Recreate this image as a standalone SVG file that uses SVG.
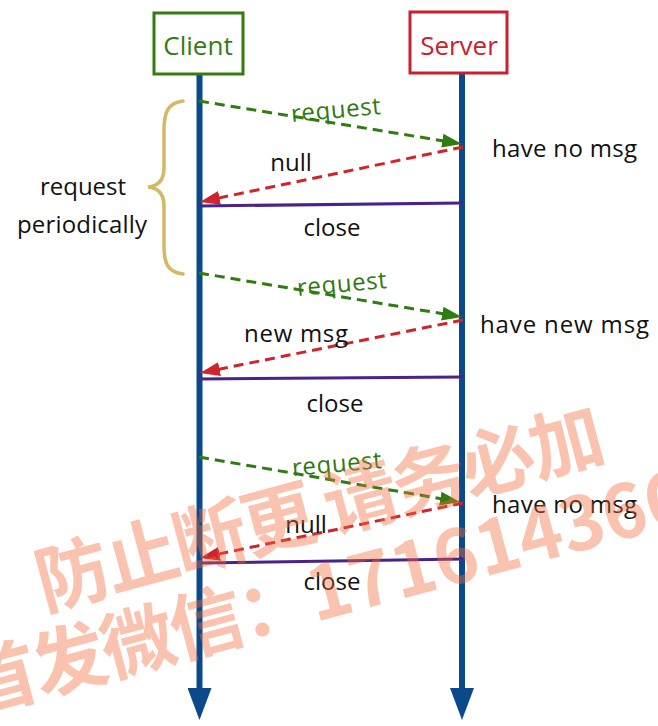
<svg xmlns="http://www.w3.org/2000/svg" width="658" height="726" viewBox="0 0 658 726">
<style>
.t{font-family:"Open Sans","DejaVu Sans",sans-serif;font-size:24px;fill:#111}
.req{fill:#2f7a10}
.box{fill:#fff;stroke-width:3}
.life{stroke:#0b4a8a;stroke-width:6;fill:none}
.dreq{stroke:#2f7d10;stroke-width:3;stroke-dasharray:10 6;fill:none}
.dres{stroke:#d0232b;stroke-width:3;stroke-dasharray:10 6;fill:none}
.cls{stroke:#4a2388;stroke-width:3;fill:none}
.wm{font-family:"Noto Sans CJK SC",sans-serif;font-weight:700;font-size:74px;letter-spacing:-3px;fill:#f26b3a;opacity:0.4}
</style>
<defs>
<marker id="ag" markerUnits="userSpaceOnUse" markerWidth="20" markerHeight="14" viewBox="0 0 20 14" refX="8" refY="7" orient="auto"><path d="M0,0 L20,7 L0,14 z" fill="#2f7d10"/></marker>
<marker id="ar" markerUnits="userSpaceOnUse" markerWidth="20" markerHeight="14" viewBox="0 0 20 14" refX="8" refY="7" orient="auto"><path d="M0,0 L20,7 L0,14 z" fill="#d0232b"/></marker>
<marker id="ab" markerUnits="userSpaceOnUse" markerWidth="32" markerHeight="24" viewBox="0 0 32 24" refX="12" refY="12" orient="auto"><path d="M0,0 L32,12 L0,24 z" fill="#0b4a8a"/></marker>
</defs>
<rect width="658" height="726" fill="#fff"/>

<g id="client">
<line class="life" x1="199.5" y1="74" x2="199.5" y2="700" marker-end="url(#ab)"/>
<rect class="box" x="154" y="13" width="89" height="61" stroke="#347c10"/>
<text class="t" x="198" y="55" text-anchor="middle" style="font-size:26px;fill:#347c10">Client</text>
</g>

<g id="server">
<line class="life" x1="462" y1="74" x2="462" y2="700" marker-end="url(#ab)"/>
<rect class="box" x="410" y="12" width="97" height="61" stroke="#c8202c"/>
<text class="t" x="459" y="55" text-anchor="middle" style="font-size:26px;fill:#c8202c">Server</text>
</g>

<g id="brace">
<path d="M183,101 C168,103 164,112 164,130 L164,168 C164,180 158,186 148,187 C158,188 164,194 164,206 L164,246 C164,264 168,272 183,274" fill="none" stroke="#d6b766" stroke-width="3.5" stroke-linecap="round"/>
<text class="t" x="83" y="195" text-anchor="middle">request</text>
<text class="t" x="82" y="233" text-anchor="middle" textLength="130" lengthAdjust="spacing">periodically</text>
</g>

<g id="connectors">
<line class="dreq" x1="199" y1="101" x2="450.2" y2="142" marker-end="url(#ag)"/>
<line class="dres" x1="463" y1="147" x2="211.7" y2="199.5" marker-end="url(#ar)"/>
<line class="cls" x1="199" y1="206" x2="463" y2="203"/>

<line class="dreq" x1="199" y1="273" x2="450.2" y2="315" marker-end="url(#ag)"/>
<line class="dres" x1="463" y1="320" x2="211.7" y2="370.7" marker-end="url(#ar)"/>
<line class="cls" x1="199" y1="379" x2="463" y2="377"/>

<line class="dreq" x1="199" y1="457" x2="448.2" y2="500" marker-end="url(#ag)"/>
<line class="dres" x1="463" y1="503" x2="211.7" y2="555.5" marker-end="url(#ar)"/>
<line class="cls" x1="199" y1="563" x2="463" y2="559"/>
</g>

<g id="labels">
<text class="t req" x="336" y="118" text-anchor="middle" transform="rotate(-5 336 112)" textLength="90" lengthAdjust="spacing">request</text>
<text class="t" x="291" y="171" text-anchor="middle">null</text>
<text class="t" x="492" y="157" textLength="145" lengthAdjust="spacing">have no msg</text>
<text class="t" x="332" y="236" text-anchor="middle">close</text>

<text class="t req" x="342" y="292" text-anchor="middle" transform="rotate(-5 342 286)" textLength="90" lengthAdjust="spacing">request</text>
<text class="t" x="296" y="342" text-anchor="middle" textLength="104" lengthAdjust="spacing">new msg</text>
<text class="t" x="480" y="333" textLength="169" lengthAdjust="spacing">have new msg</text>
<text class="t" x="335" y="412" text-anchor="middle">close</text>

<text class="t req" x="337" y="472" text-anchor="middle" transform="rotate(-5 337 466)" textLength="90" lengthAdjust="spacing">request</text>
<text class="t" x="306" y="533" text-anchor="middle">null</text>
<text class="t" x="492" y="513" textLength="145" lengthAdjust="spacing">have no msg</text>
<text class="t" x="332" y="590" text-anchor="middle">close</text>
</g>

<g id="watermark">
<text class="wm" transform="translate(44,610) rotate(-15)">防止断更 请务必加</text>
<text class="wm" transform="translate(-28,714) rotate(-15)">首发微信：<tspan style="letter-spacing:0">171614366</tspan></text>
</g>
</svg>
